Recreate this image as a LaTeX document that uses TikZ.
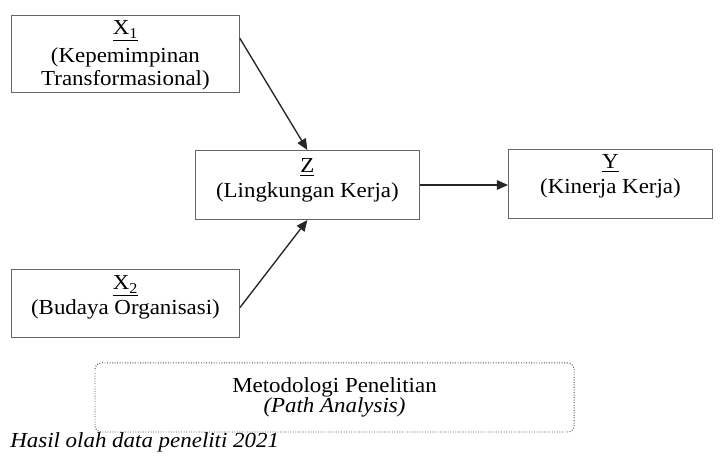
\documentclass[tikz,border=0pt]{standalone}
\usepackage{fontspec}
\setmainfont{Liberation Serif}[FakeStretch=1.07]
\usetikzlibrary{arrows.meta,calc}

\begin{document}
\begin{tikzpicture}[x=0.63pt, y=-0.63pt,
	box/.style={draw=black!60, line width=0.6pt, anchor=north west, inner sep=0pt, align=center, font=\fontsize{13.5}{14.5}\selectfont},
	link/.style={draw=black!85, line width=0.85pt, -{Triangle[length=7pt,width=6pt]}}]

	\useasboundingbox (0,0) rectangle (724,463);

	\node[box, minimum width=143.6pt, text height=44.1pt, text depth=4.4pt] (x1) at (11,15) {\underline{X\textsubscript{1}}\\[3pt](Kepemimpinan\\Transformasional)};
	\node[box, minimum width=143.6pt, text height=28.4pt, text depth=14.5pt] (x2) at (11,269) {\underline{X\textsubscript{2}}\\[1pt](Budaya Organisasi)};
	\node[box, minimum width=141pt, text height=29.6pt, text depth=13.9pt] (z) at (195,150) {\underline{Z}\\[1pt](Lingkungan Kerja)};
	\node[box, minimum width=128.5pt, text height=27.7pt, text depth=15.7pt] (y) at (508,149) {\underline{Y}\\[1pt](Kinerja Kerja)};

	\node[draw=black!70, densely dotted, line width=0.6pt, rounded corners=4pt, minimum width=301.8pt, minimum height=43.5pt, align=center, font=\fontsize{13.5}{14.5}\selectfont] (metode) at (334.5,397.5) {Metodologi Penelitian\\[-2pt]\textit{(Path Analysis)}};
	\node[anchor=base west, inner sep=0pt, font=\fontsize{13.5}{14.5}\itshape] (sumber) at (10,448) {Hasil olah data peneliti 2021};

	\draw[link] ($(x1.north east)!0.3!(x1.south east)$) -- (z.north);
	\draw[link] ($(x2.north east)!0.56!(x2.south east)$) -- (z.south);
	\draw[link] (z.east) -- (z.east -| y.west);

\end{tikzpicture}
\end{document}
